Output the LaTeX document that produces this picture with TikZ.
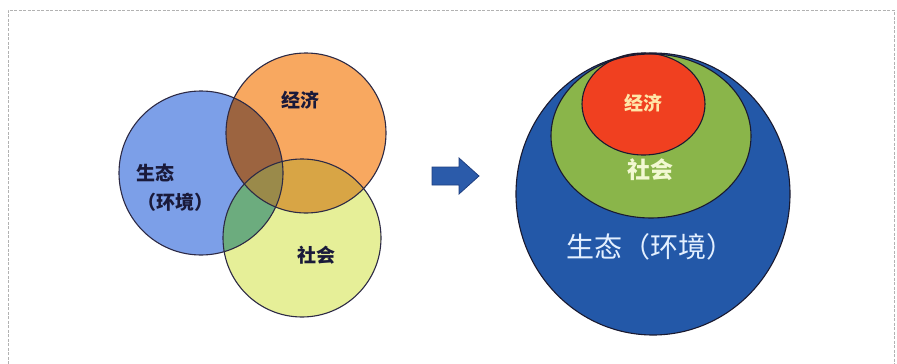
\documentclass[tikz,border=0pt]{standalone}
\usepackage{fontspec}
\newfontfamily\cjk{Noto Sans CJK SC}
\definecolor{vblue}{HTML}{7C9FE8}
\definecolor{vorange}{HTML}{F8A860}
\definecolor{vyellow}{HTML}{E6EF98}
\definecolor{vbo}{HTML}{9C6440}
\definecolor{voy}{HTML}{D8A545}
\definecolor{vby}{HTML}{6CAC7E}
\definecolor{vboy}{HTML}{9A8A4A}
\definecolor{vline}{HTML}{2D2A45}
\definecolor{vtext}{HTML}{1A1A3A}
\definecolor{bigblue}{HTML}{2358A8}
\definecolor{midgreen}{HTML}{8AB54A}
\definecolor{topred}{HTML}{F04020}
\definecolor{nline}{HTML}{1A1A30}
\definecolor{arrowblue}{HTML}{2B5BAA}
\definecolor{arrowline}{HTML}{1F3F80}
\definecolor{txtecon}{HTML}{FFE6A8}
\definecolor{txtsoc}{HTML}{F2F8D2}
\definecolor{txteco}{HTML}{E4F0FF}
\tikzset{
  vennline/.style={draw=vline, line width=1.1pt},
  nestline/.style={draw=nline, line width=1.1pt},
  lefttext/.style={font=\cjk\bfseries\fontsize{19}{22}\selectfont, text=vtext, inner sep=0pt, align=center},
}
\begin{document}
\begin{tikzpicture}[x=1pt,y=-1pt]
\useasboundingbox (0,0) rectangle (897,364);
% frame
\draw[gray!60, dashed, dash pattern=on 3pt off 1.5pt, line width=0.9pt] (8,364) -- (8,10) -- (894,10) -- (894,364);
% left Venn
\coordinate (cb) at (201,173);
\coordinate (co) at (306,133);
\coordinate (cy) at (302,238);
\fill[vblue] (cb) circle (82pt);
\fill[vorange] (co) circle (80pt);
\fill[vyellow] (cy) circle (79pt);
\begin{scope}
  \clip (cb) circle (82pt);
  \fill[vbo] (co) circle (80pt);
  \fill[vby] (cy) circle (79pt);
\end{scope}
\begin{scope}
  \clip (co) circle (80pt);
  \fill[voy] (cy) circle (79pt);
  \clip (cb) circle (82pt);
  \fill[vboy] (cy) circle (79pt);
\end{scope}
\draw[vennline] (cb) circle (82pt);
\draw[vennline] (co) circle (80pt);
\draw[vennline] (cy) circle (79pt);
\node[lefttext] (econL) at (300,100) {经济};
\node[lefttext] (ecoL1) at (155,173) {生态};
\node[lefttext] (ecoL2) at (175,202) {（环境）};
\node[lefttext] (socL) at (316,255) {社会};
% arrow
\draw[fill=arrowblue, draw=arrowline, line width=0.8pt, line join=miter]
  (432,167) -- (459,167) -- (459,158) -- (479,176) -- (459,194) -- (459,185) -- (432,185) -- cycle;
% nested
\coordinate (nb) at (653,194);
\coordinate (ng) at (651,136);
\coordinate (nr) at (643.5,104);
\fill[bigblue] (nb) ellipse [x radius=137pt, y radius=141pt];
\fill[midgreen] (ng) ellipse [x radius=100pt, y radius=82pt];
\draw[fill=topred, nestline] (nr) ellipse [x radius=61.5pt, y radius=51pt];
\draw[nestline] (ng) ellipse [x radius=100pt, y radius=82pt];
\draw[nestline] (nb) ellipse [x radius=137pt, y radius=141pt];
\node[font=\cjk\bfseries\fontsize{19}{22}\selectfont, text=txtecon, inner sep=0pt] (econR) at (643,103) {经济};
\node[font=\cjk\bfseries\fontsize{23}{26}\selectfont, text=txtsoc, inner sep=0pt] (socR) at (650,170) {社会};
\node[font=\cjk\fontsize{28}{30}\selectfont, text=txteco, inner sep=0pt] (ecoR) at (650,247) {生态（环境）};
\end{tikzpicture}
\end{document}
